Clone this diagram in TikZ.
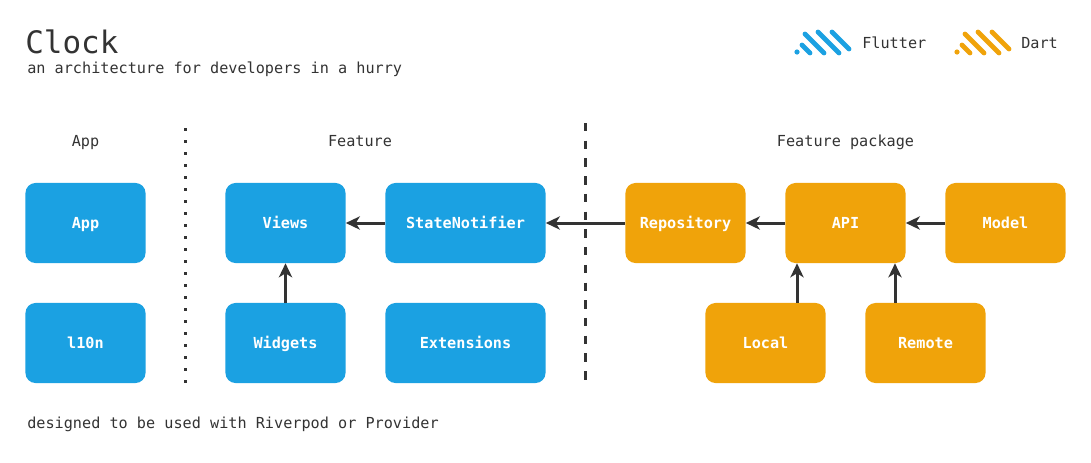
\documentclass[tikz,border=0pt]{standalone}
\usepackage{fontspec}
\setmonofont{DejaVu Sans Mono}
\usetikzlibrary{arrows.meta}
\definecolor{flutterBlue}{HTML}{1BA1E2}
\definecolor{dartOrange}{HTML}{F0A30A}
\definecolor{inkGray}{HTML}{333333}
\newcommand\boxFont{\ttfamily\bfseries\fontsize{10.8}{13}\selectfont}
\newcommand\textFont{\ttfamily\fontsize{10.8}{13}\selectfont}
\newcommand\drawLogo[3]{
	\fill[#3] (#1,#2) circle[radius=2.6];
	\foreach \xa/\ya/\xb/\yb in {5/-7/13/1, 8/-18/27/1, 21/-20/42/1, 35/-20/52/-3}{
		\draw[#3, line width=0.12cm, line cap=round]
		(#1+\xa,#2+\ya) -- (#1+\xb,#2+\yb);
	}
}

\begin{document}
\begin{tikzpicture}[x=0.025cm, y=-0.025cm,
	block/.style={rounded corners=0.25cm, minimum width=3cm, minimum height=2cm, text=white, font=\boxFont, inner sep=0pt, text height=8pt, text depth=0pt},
	flutter/.style={block, fill=flutterBlue},
	dart/.style={block, fill=dartOrange},
	wide/.style={minimum width=4cm},
	dep/.style={inkGray, line width=0.075cm, -{Stealth[length=0.35cm, width=0.33cm, inset=0.1cm]}},
	txt/.style={text=inkGray, font=\textFont, inner sep=0pt}]

	\fill[white] (0,0) rectangle (1091,462);
	\useasboundingbox (0,0) rectangle (1091,462);

	% title and legend
	\node[txt, anchor=base west, font=\ttfamily\fontsize{22}{26}\selectfont] (title) at (25,53) {Clock};
	\node[txt, anchor=base west] (subtitle) at (27,73) {an architecture for developers in a hurry};
	\drawLogo{797}{52}{flutterBlue}
	\node[txt, anchor=west] (flutterKey) at (862,43) {Flutter};
	\drawLogo{957}{52}{dartOrange}
	\node[txt, anchor=west] (dartKey) at (1021,43) {Dart};

	% columns
	\node[txt, anchor=base] (appHead) at (85.5,146) {App};
	\node[txt, anchor=base] (featureHead) at (360,146) {Feature};
	\node[txt, anchor=base] (packageHead) at (845.5,146) {Feature package};
	\draw[inkGray, line width=0.075cm, dash pattern=on 0.075cm off 0.225cm] (185,128) -- (185,383);
	\draw[inkGray, line width=0.07cm, dash pattern=on 0.21cm off 0.233cm] (585.5,123) -- (585.5,383);

	\node[flutter] (app) at (85.5,223) {App};
	\node[flutter] (l10n) at (85.5,343) {l10n};
	\node[flutter] (views) at (285.5,223) {Views};
	\node[flutter] (widgets) at (285.5,343) {Widgets};
	\node[flutter, wide] (stateNotifier) at (465.5,223) {StateNotifier};
	\node[flutter, wide] (extensions) at (465.5,343) {Extensions};
	\node[dart] (repository) at (685.5,223) {Repository};
	\node[dart] (api) at (845.5,223) {API};
	\node[dart] (model) at (1005.5,223) {Model};
	\node[dart] (local) at (765.5,343) {Local};
	\node[dart] (remote) at (925.5,343) {Remote};

	\draw[dep] (stateNotifier.west) -- (views.east);
	\draw[dep] (widgets.north) -- (views.south);
	\draw[dep] (repository.west) -- (stateNotifier.east);
	\draw[dep] (api.west) -- (repository.east);
	\draw[dep] (model.west) -- (api.east);
	\coordinate (localUp) at ([xshift=0.7875cm]local.north);
	\coordinate (remoteUp) at ([xshift=-0.7625cm]remote.north);
	\draw[dep] (localUp) -- (localUp |- api.south);
	\draw[dep] (remoteUp) -- (remoteUp |- api.south);

	\node[txt, anchor=base west] (footnote) at (27,428) {designed to be used with Riverpod or Provider};
\end{tikzpicture}
\end{document}
